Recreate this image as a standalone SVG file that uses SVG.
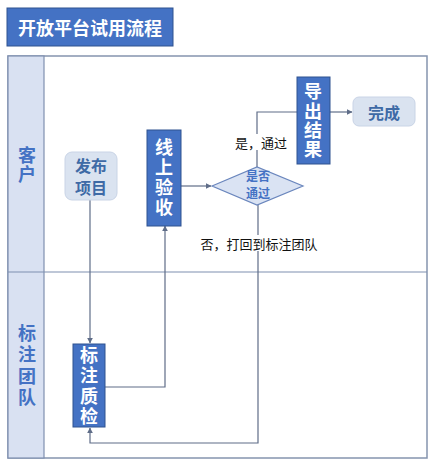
<svg xmlns="http://www.w3.org/2000/svg" width="438" height="467" viewBox="0 0 438 467">
<defs>
<style>
.cjk{font-family:"Noto Sans CJK SC","Noto Sans",sans-serif;}
.vt{writing-mode:vertical-rl;text-anchor:middle;}
.lane{fill:#d9e1f2;stroke:#7f8fb0;stroke-width:1.2;}
.frame{fill:#ffffff;stroke:#8594ae;stroke-width:1.5;}
.dark{fill:#4472c4;stroke:#2f528f;stroke-width:1;}
.soft{fill:#dae3f0;stroke:#c9d4e6;stroke-width:1;}
.wt{fill:#ffffff;font-weight:bold;font-size:18px;}
.st{fill:#3e6aa6;font-weight:bold;font-size:16px;text-anchor:middle;}
.lt{fill:#4472c4;font-weight:bold;font-size:18px;}
.lbl{fill:#111111;font-size:13px;text-anchor:middle;dominant-baseline:central;}
.conn{fill:none;stroke:#5f6d88;stroke-width:1.2;}
</style>
<marker id="arr" viewBox="0 0 10 10" refX="9" refY="5" markerWidth="6" markerHeight="6" orient="auto" markerUnits="userSpaceOnUse">
<path d="M0,0 L10,5 L0,10 z" fill="#5f6d88"/>
</marker>
</defs>
<rect width="438" height="467" fill="#ffffff"/>
<g id="title">
<rect x="7" y="8" width="166" height="38" fill="#4472c4" stroke="#2f528f" stroke-width="1"/>
<text class="cjk" x="90" y="27" fill="#ffffff" font-weight="bold" font-size="18" text-anchor="middle" dominant-baseline="central">开放平台试用流程</text>
</g>
<g id="pool">
<rect class="frame" x="8" y="56" width="419" height="402"/>
<rect class="lane" x="8" y="56" width="36" height="402"/>
<line x1="8" y1="272" x2="427" y2="272" stroke="#7f8fb0" stroke-width="1.2"/>
</g>
<g id="lane-customer">
<text class="cjk lt vt" x="27" y="165" letter-spacing="1">客户</text>
</g>
<g id="lane-team">
<text class="cjk lt vt" x="27" y="367" letter-spacing="3.5">标注团队</text>
</g>
<g id="connectors">
<path class="conn" d="M90,200 L90,343" marker-end="url(#arr)"/>
<path class="conn" d="M105,387 L165,387 L165,226" marker-end="url(#arr)"/>
<path class="conn" d="M181,186 L211,186" marker-end="url(#arr)"/>
<path class="conn" d="M257,167 L257,112 L297,112"/>
<path class="conn" d="M330,112 L352,112" marker-end="url(#arr)"/>
<path class="conn" d="M258,204 L258,443 L90,443 L90,428" marker-end="url(#arr)"/>
<rect x="233" y="134" width="56" height="16" fill="#ffffff"/>
<text class="cjk lbl" x="261" y="142">是，通过</text>
<rect x="202" y="235" width="115" height="16" fill="#ffffff"/>
<text class="cjk lbl" x="259" y="243">否，打回到标注团队</text>
</g>
<g id="node-publish">
<rect class="soft" x="65" y="152" width="52" height="48" rx="7"/>
<text class="cjk st" x="91" y="171.5" font-size="15"><tspan x="91">发布</tspan><tspan x="91" dy="22">项目</tspan></text>
</g>
<g id="node-qc">
<rect class="dark" x="73" y="344" width="32" height="83"/>
<text class="cjk wt vt" x="89" y="387" font-size="17" letter-spacing="2.5">标注质检</text>
</g>
<g id="node-accept">
<rect class="dark" x="147" y="130" width="34" height="96"/>
<text class="cjk wt vt" x="164" y="178" letter-spacing="1.7">线上验收</text>
</g>
<g id="node-decision">
<polygon points="212,186 257,167 303,186 257,205" fill="#dae3f3" stroke="#6a86bd" stroke-width="1.2"/>
<text class="cjk" x="258" y="180.5" fill="#4472c4" font-weight="bold" font-size="12" text-anchor="middle"><tspan x="258">是否</tspan><tspan x="258" dy="17.5">通过</tspan></text>
</g>
<g id="node-export">
<rect class="dark" x="297" y="77" width="33" height="87"/>
<text class="cjk wt vt" x="313" y="121" letter-spacing="1.3">导出结果</text>
</g>
<g id="node-done">
<rect class="soft" x="353" y="97" width="62" height="29" rx="6"/>
<text class="cjk st" x="384" y="112" dominant-baseline="central">完成</text>
</g>
</svg>
